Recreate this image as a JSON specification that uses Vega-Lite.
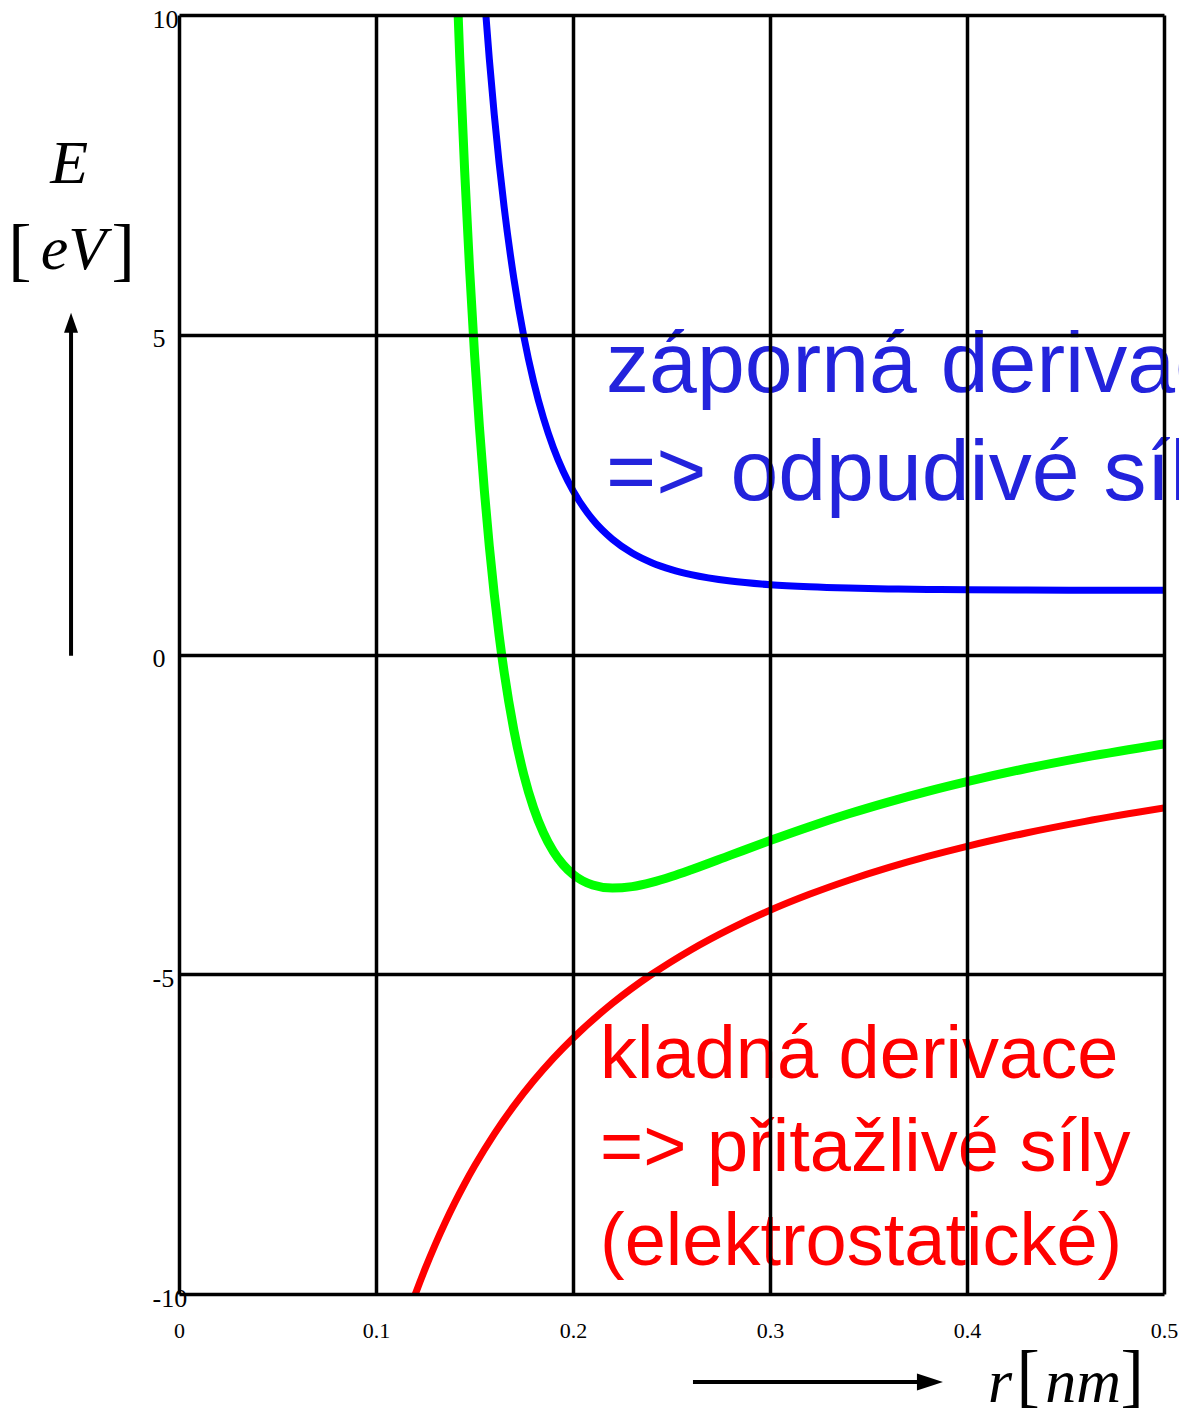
{
  "$schema": "https://vega.github.io/schema/vega-lite/v6.json",
  "width": 985,
  "height": 1279,
  "autosize": {"type": "none"},
  "padding": {"left": 179, "top": 15, "right": 15, "bottom": 116},
  "background": "white",
  "config": {"view": {"stroke": null}},
  "datasets": {
    "curves": [
      {"series": "attractive", "r": 0.1175, "E": -10.2128},
      {"series": "attractive", "r": 0.12, "E": -10.0},
      {"series": "attractive", "r": 0.125, "E": -9.6},
      {"series": "attractive", "r": 0.13, "E": -9.2308},
      {"series": "attractive", "r": 0.135, "E": -8.8889},
      {"series": "attractive", "r": 0.14, "E": -8.5714},
      {"series": "attractive", "r": 0.145, "E": -8.2759},
      {"series": "attractive", "r": 0.15, "E": -8.0},
      {"series": "attractive", "r": 0.16, "E": -7.5},
      {"series": "attractive", "r": 0.17, "E": -7.0588},
      {"series": "attractive", "r": 0.18, "E": -6.6667},
      {"series": "attractive", "r": 0.19, "E": -6.3158},
      {"series": "attractive", "r": 0.2, "E": -6.0},
      {"series": "attractive", "r": 0.22, "E": -5.4545},
      {"series": "attractive", "r": 0.24, "E": -5.0},
      {"series": "attractive", "r": 0.26, "E": -4.6154},
      {"series": "attractive", "r": 0.28, "E": -4.2857},
      {"series": "attractive", "r": 0.3, "E": -4.0},
      {"series": "attractive", "r": 0.32, "E": -3.75},
      {"series": "attractive", "r": 0.34, "E": -3.5294},
      {"series": "attractive", "r": 0.36, "E": -3.3333},
      {"series": "attractive", "r": 0.38, "E": -3.1579},
      {"series": "attractive", "r": 0.4, "E": -3.0},
      {"series": "attractive", "r": 0.43, "E": -2.7907},
      {"series": "attractive", "r": 0.46, "E": -2.6087},
      {"series": "attractive", "r": 0.5, "E": -2.4},

      {"series": "repulsive", "r": 0.1525, "E": 11.427},
      {"series": "repulsive", "r": 0.155, "E": 10.305},
      {"series": "repulsive", "r": 0.1575, "E": 9.319},
      {"series": "repulsive", "r": 0.16, "E": 8.451},
      {"series": "repulsive", "r": 0.1625, "E": 7.684},
      {"series": "repulsive", "r": 0.165, "E": 7.007},
      {"series": "repulsive", "r": 0.17, "E": 5.874},
      {"series": "repulsive", "r": 0.175, "E": 4.979},
      {"series": "repulsive", "r": 0.18, "E": 4.267},
      {"series": "repulsive", "r": 0.185, "E": 3.697},
      {"series": "repulsive", "r": 0.19, "E": 3.237},
      {"series": "repulsive", "r": 0.195, "E": 2.865},
      {"series": "repulsive", "r": 0.2, "E": 2.563},
      {"series": "repulsive", "r": 0.21, "E": 2.11},
      {"series": "repulsive", "r": 0.22, "E": 1.802},
      {"series": "repulsive", "r": 0.23, "E": 1.587},
      {"series": "repulsive", "r": 0.24, "E": 1.436},
      {"series": "repulsive", "r": 0.25, "E": 1.328},
      {"series": "repulsive", "r": 0.26, "E": 1.249},
      {"series": "repulsive", "r": 0.28, "E": 1.148},
      {"series": "repulsive", "r": 0.3, "E": 1.091},
      {"series": "repulsive", "r": 0.32, "E": 1.058},
      {"series": "repulsive", "r": 0.34, "E": 1.038},
      {"series": "repulsive", "r": 0.36, "E": 1.026},
      {"series": "repulsive", "r": 0.38, "E": 1.017},
      {"series": "repulsive", "r": 0.4, "E": 1.012},
      {"series": "repulsive", "r": 0.43, "E": 1.007},
      {"series": "repulsive", "r": 0.46, "E": 1.005},
      {"series": "repulsive", "r": 0.5, "E": 1.003},

      {"series": "total", "r": 0.14, "E": 11.4},
      {"series": "total", "r": 0.1425, "E": 9.341},
      {"series": "total", "r": 0.145, "E": 7.564},
      {"series": "total", "r": 0.1475, "E": 6.031},
      {"series": "total", "r": 0.15, "E": 4.705},
      {"series": "total", "r": 0.1525, "E": 3.558},
      {"series": "total", "r": 0.155, "E": 2.563},
      {"series": "total", "r": 0.1575, "E": 1.7},
      {"series": "total", "r": 0.16, "E": 0.951},
      {"series": "total", "r": 0.1625, "E": 0.299},
      {"series": "total", "r": 0.165, "E": -0.266},
      {"series": "total", "r": 0.17, "E": -1.185},
      {"series": "total", "r": 0.175, "E": -1.878},
      {"series": "total", "r": 0.18, "E": -2.4},
      {"series": "total", "r": 0.185, "E": -2.79},
      {"series": "total", "r": 0.19, "E": -3.079},
      {"series": "total", "r": 0.195, "E": -3.288},
      {"series": "total", "r": 0.2, "E": -3.438},
      {"series": "total", "r": 0.21, "E": -3.604},
      {"series": "total", "r": 0.22, "E": -3.653},
      {"series": "total", "r": 0.23, "E": -3.63},
      {"series": "total", "r": 0.24, "E": -3.564},
      {"series": "total", "r": 0.25, "E": -3.472},
      {"series": "total", "r": 0.26, "E": -3.366},
      {"series": "total", "r": 0.28, "E": -3.137},
      {"series": "total", "r": 0.3, "E": -2.909},
      {"series": "total", "r": 0.32, "E": -2.692},
      {"series": "total", "r": 0.34, "E": -2.491},
      {"series": "total", "r": 0.36, "E": -2.308},
      {"series": "total", "r": 0.38, "E": -2.14},
      {"series": "total", "r": 0.4, "E": -1.988},
      {"series": "total", "r": 0.43, "E": -1.783},
      {"series": "total", "r": 0.46, "E": -1.604},
      {"series": "total", "r": 0.5, "E": -1.397}
    ],
    "notesBlue": [
      {"r": 0.2168, "E": 4.1, "text": "záporná derivace"},
      {"r": 0.2168, "E": 2.42, "text": "=> odpudivé síly"}
    ],
    "notesRed": [
      {"r": 0.2137, "E": -6.625, "text": "kladná derivace"},
      {"r": 0.2137, "E": -8.08, "text": "=> přitažlivé síly"},
      {"r": 0.2137, "E": -9.547, "text": "(elektrostatické)"}
    ],
    "titlesItalic": [
      {"r": -0.0558, "E": 7.375, "text": "E"},
      {"r": -0.0536, "E": 6.03, "text": "eV"},
      {"r": 0.4168, "E": -11.6875, "text": "r"},
      {"r": 0.4589, "E": -11.6875, "text": "nm"}
    ],
    "titlesBrackets": [
      {"r": -0.0807, "E": 5.97, "text": "["},
      {"r": -0.0284, "E": 5.97, "text": "]"},
      {"r": 0.431, "E": -11.64, "text": "["},
      {"r": 0.4838, "E": -11.64, "text": "]"}
    ]
  },
  "encoding": {
    "x": {
      "field": "r",
      "type": "quantitative",
      "scale": {"domain": [0, 0.5], "nice": false, "zero": false},
      "axis": {
        "title": null,
        "values": [0, 0.1, 0.2, 0.3, 0.4, 0.5],
        "labelExpr": "toString(datum.value)",
        "grid": true,
        "gridColor": "black",
        "gridWidth": 3.5,
        "gridOpacity": 1,
        "domain": false,
        "ticks": false,
        "labelFont": "Liberation Serif",
        "labelFontSize": 22,
        "labelColor": "black",
        "labelBaseline": "middle",
        "labelPadding": 36,
        "labelFlush": false,
        "labelOverlap": false,
        "labelBound": false,
        "zindex": 1
      }
    },
    "y": {
      "field": "E",
      "type": "quantitative",
      "scale": {"domain": [-10, 10], "nice": false, "zero": false},
      "axis": {
        "title": null,
        "values": [-10, -5, 0, 5, 10],
        "labelExpr": "toString(datum.value)",
        "grid": true,
        "gridColor": "black",
        "gridWidth": 3.5,
        "gridOpacity": 1,
        "domain": false,
        "ticks": false,
        "labelFont": "Liberation Serif",
        "labelFontSize": 26,
        "labelColor": "black",
        "labelAlign": "left",
        "labelBaseline": "middle",
        "labelPadding": 27,
        "labelOffset": 4,
        "labelFlush": false,
        "labelOverlap": false,
        "labelBound": false,
        "zindex": 1
      }
    }
  },
  "layer": [
    {
      "data": {"name": "curves"},
      "transform": [{"filter": "datum.series === 'attractive'"}],
      "mark": {"type": "line", "clip": true, "interpolate": "monotone", "color": "#ff0000", "strokeWidth": 7}
    },
    {
      "data": {"name": "curves"},
      "transform": [{"filter": "datum.series === 'repulsive'"}],
      "mark": {"type": "line", "clip": true, "interpolate": "monotone", "color": "#0000ff", "strokeWidth": 7}
    },
    {
      "data": {"name": "curves"},
      "transform": [{"filter": "datum.series === 'total'"}],
      "mark": {"type": "line", "clip": true, "interpolate": "monotone", "color": "#00ff00", "strokeWidth": 9}
    },
    {
      "data": {"name": "notesBlue"},
      "mark": {"type": "text", "align": "left", "baseline": "alphabetic", "font": "Liberation Sans", "fontSize": 86, "color": "#2323dc"},
      "encoding": {"text": {"field": "text"}}
    },
    {
      "data": {"name": "notesRed"},
      "mark": {"type": "text", "align": "left", "baseline": "alphabetic", "font": "Liberation Sans", "fontSize": 74, "color": "#ff0000"},
      "encoding": {"text": {"field": "text"}}
    },
    {
      "data": {"name": "titlesItalic"},
      "mark": {"type": "text", "align": "center", "baseline": "alphabetic", "font": "Liberation Serif", "fontStyle": "italic", "fontSize": 62, "color": "black"},
      "encoding": {"text": {"field": "text"}}
    },
    {
      "data": {"name": "titlesBrackets"},
      "mark": {"type": "text", "align": "center", "baseline": "alphabetic", "font": "Liberation Serif", "fontSize": 70, "color": "black"},
      "encoding": {"text": {"field": "text"}}
    },
    {
      "data": {"values": [{"r": -0.0548, "E": -0.02, "E2": 5.1}]},
      "mark": {"type": "rule", "color": "black", "strokeWidth": 4},
      "encoding": {"y2": {"field": "E2"}}
    },
    {
      "data": {"values": [{"r": 0.2609, "r2": 0.376, "E": -11.375}]},
      "mark": {"type": "rule", "color": "black", "strokeWidth": 4},
      "encoding": {"x2": {"field": "r2"}}
    },
    {
      "data": {"values": [{"r": -0.0548, "E": 5.1875}]},
      "mark": {"type": "point", "filled": true, "opacity": 1, "color": "black", "shape": "M0,-1L0.7,1L-0.7,1Z", "size": 400}
    },
    {
      "data": {"values": [{"r": 0.3812, "E": -11.375}]},
      "mark": {"type": "point", "filled": true, "opacity": 1, "color": "black", "shape": "M1,0L-1,0.65L-1,-0.65Z", "size": 676}
    }
  ]
}
